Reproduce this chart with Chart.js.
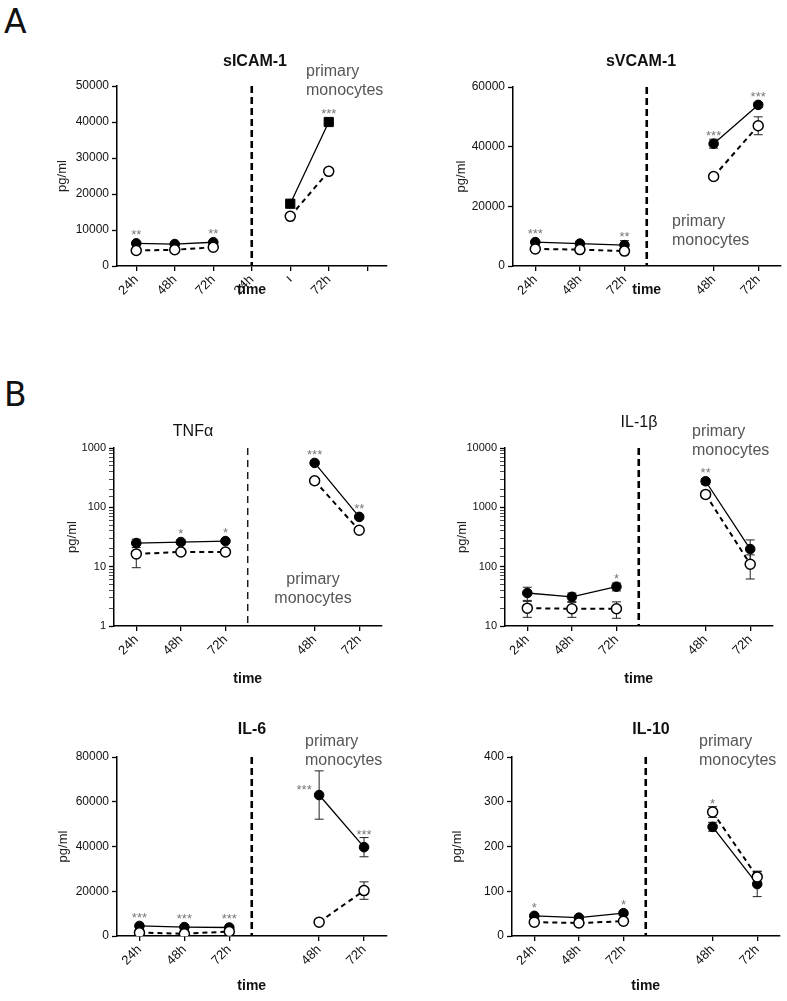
<!DOCTYPE html>
<html>
<head>
<meta charset="utf-8">
<script src="https://cdn.jsdelivr.net/npm/chart.js@4.4.0/dist/chart.umd.min.js"></script>
<style>
body { margin:0; background:#fff; width:787px; height:1001px; position:relative; overflow:hidden; }
canvas { position:absolute; }
.big { position:absolute; font-family:"DejaVu Sans", Arial, sans-serif; font-size:33px; color:#111; line-height:1; }
</style>
</head>
<body>
<div class="big" style="left:4px;top:5px">A</div>
<div class="big" style="left:4px;top:378px">B</div>
<canvas id="c1"></canvas>
<canvas id="c2"></canvas>
<canvas id="c3"></canvas>
<canvas id="c4"></canvas>
<canvas id="c5"></canvas>
<canvas id="c6"></canvas>
<script>
// sICAM-1
var icamLabels = ['24h', '48h', '72h', '24h', 'ı', '72h', ''];
var icamFilled = [6300, 6100, 6600, null, 17300, 40000, null];
var icamOpen = [4300, 4500, 5200, null, 13800, 26300, null];
var icamFilledErr = [300, 300, 300, null, 500, 600, null];
var icamOpenErr = [300, 300, 300, null, 400, 700, null];
var icamStars = ['**', '', '**', '', '', '***', ''];

// sVCAM-1
var vcamLabels = ['24h', '48h', '72h', '', '48h', '72h'];
var vcamFilled = [8000, 7500, 7000, null, 41000, 54000];
var vcamOpen = [5700, 5500, 5000, null, 30000, 47000];
var vcamFilledErr = [500, 400, 1500, null, 1500, 800];
var vcamOpenErr = [400, 400, 1000, null, 600, 3000];
var vcamStars = ['***', '', '**', '', '***', '***'];

// TNFa
var tnfLabels = ['24h', '48h', '72h', '', '48h', '72h'];
var tnfFilled = [25, 26, 27, null, 560, 69];
var tnfOpen = [16.4, 17.7, 17.7, null, 280, 41];
var tnfFilledErr = [4, 2, 2, null, 40, 5];
var tnfOpenErr = [6.8, 1.5, 2, null, 25, 3];
var tnfStars = ['', '*', '*', '', '***', '**'];

// IL-1b
var il1Labels = ['24h', '48h', '72h', '', '48h', '72h'];
var il1Filled = [36, 31, 46, null, 2750, 198];
var il1Open = [20, 19.5, 19.5, null, 1650, 110];
var il1FilledErr = [9, 5, 7, null, 300, 84];
var il1OpenErr = [6, 5.5, 6, null, 200, 48];
var il1Stars = ['', '', '*', '', '**', ''];

// IL-6
var il6Labels = ['24h', '48h', '72h', '', '48h', '72h'];
var il6Filled = [4500, 4000, 3800, null, 63000, 39700];
var il6Open = [1500, 1000, 2000, null, 6200, 20300];
var il6FilledErr = [500, 500, 500, null, 10800, 4300];
var il6OpenErr = [300, 300, 300, null, 500, 3900];
var il6Stars = ['***', '***', '***', '', '***', '***'];

// IL-10
var il10Labels = ['24h', '48h', '72h', '', '48h', '72h'];
var il10Filled = [45, 41, 51, null, 244, 116];
var il10Open = [31, 29, 33, null, 277, 132];
var il10FilledErr = [4, 4, 4, null, 10, 28];
var il10OpenErr = [3, 3, 3, null, 12, 13];
var il10Stars = ['*', '', '*', '', '*', ''];

var FONT = 'Arial, "Liberation Sans", sans-serif';

var panels = [
  {id:'c1', g:{ax:117, top:86, bottom:266, right:387, yTitleX:62, xTitleY:290},
   labels:icamLabels, filled:icamFilled, open:icamOpen, filledErr:icamFilledErr, openErr:icamOpenErr, stars:icamStars,
   yType:'linear', yMin:0, yMax:50000, yStep:10000, sep:3, sepWidth:2.6, hide:[],
   title:{text:'sICAM-1', x:255, y:62, bold:true}, note:{x:306, y:72, align:'left'},
   squares:[4, 5], leftStars:[]},
  {id:'c2', g:{ax:513, top:87, bottom:266, right:783, yTitleX:461, xTitleY:290},
   labels:vcamLabels, filled:vcamFilled, open:vcamOpen, filledErr:vcamFilledErr, openErr:vcamOpenErr, stars:vcamStars,
   yType:'linear', yMin:0, yMax:60000, yStep:20000, sep:2.5, sepWidth:2.6, hide:[3],
   title:{text:'sVCAM-1', x:641, y:62, bold:true}, note:{x:672, y:222, align:'left'},
   squares:[], leftStars:[]},
  {id:'c3', g:{ax:114, top:448, bottom:626, right:382, yTitleX:72, xTitleY:679},
   labels:tnfLabels, filled:tnfFilled, open:tnfOpen, filledErr:tnfFilledErr, openErr:tnfOpenErr, stars:tnfStars,
   yType:'logarithmic', yMin:1, yMax:1000, sep:2.5, sepWidth:1.3, hide:[3],
   title:{text:'TNFα', x:193, y:432, bold:false}, note:{x:313, y:580, align:'center'},
   squares:[], leftStars:[]},
  {id:'c4', g:{ax:505, top:448, bottom:626, right:773, yTitleX:462, xTitleY:679},
   labels:il1Labels, filled:il1Filled, open:il1Open, filledErr:il1FilledErr, openErr:il1OpenErr, stars:il1Stars,
   yType:'logarithmic', yMin:10, yMax:10000, sep:2.5, sepWidth:2.6, hide:[3],
   title:{text:'IL-1β', x:639, y:423, bold:false}, note:{x:692, y:432, align:'left'},
   squares:[], leftStars:[]},
  {id:'c5', g:{ax:117, top:757, bottom:936, right:387, yTitleX:63, xTitleY:986},
   labels:il6Labels, filled:il6Filled, open:il6Open, filledErr:il6FilledErr, openErr:il6OpenErr, stars:il6Stars,
   yType:'linear', yMin:0, yMax:80000, yStep:20000, sep:2.5, sepWidth:2.6, hide:[3],
   title:{text:'IL-6', x:252, y:730, bold:true}, note:{x:305, y:742, align:'left'},
   squares:[], leftStars:[4]},
  {id:'c6', g:{ax:512, top:757, bottom:936, right:780, yTitleX:457, xTitleY:986},
   labels:il10Labels, filled:il10Filled, open:il10Open, filledErr:il10FilledErr, openErr:il10OpenErr, stars:il10Stars,
   yType:'linear', yMin:0, yMax:400, yStep:100, sep:2.5, sepWidth:2.6, hide:[3],
   title:{text:'IL-10', x:651, y:730, bold:true}, note:{x:699, y:742, align:'left'},
   squares:[], leftStars:[]}
];

function makeDecor(p, box) {
  return {
    id: 'decor',
    beforeDatasetsDraw: function(chart) {
      var ctx = chart.ctx, xs = chart.scales.x, ys = chart.scales.y, a = chart.chartArea;
      // separator line
      var sx = xs.getPixelForValue(p.sep);
      ctx.save();
      ctx.strokeStyle = '#000';
      ctx.lineWidth = p.sepWidth;
      ctx.setLineDash(p.sepWidth > 2 ? [7, 4] : [7, 5]);
      ctx.beginPath();
      ctx.moveTo(sx, a.top);
      ctx.lineTo(sx, a.bottom);
      ctx.stroke();
      ctx.setLineDash([]);
      // error bars
      ctx.lineWidth = 1;
      ctx.strokeStyle = '#222';
      [[p.filled, p.filledErr], [p.open, p.openErr]].forEach(function(pair) {
        pair[0].forEach(function(v, i) {
          var e = pair[1][i];
          if (v === null || !e) return;
          var x = xs.getPixelForValue(i);
          var lo = v - e;
          if (p.yType === 'logarithmic') lo = Math.max(lo, p.yMin * 1.01);
          var y1 = ys.getPixelForValue(v + e), y2 = ys.getPixelForValue(lo);
          ctx.beginPath();
          ctx.moveTo(x, y1); ctx.lineTo(x, y2);
          ctx.moveTo(x - 4.5, y1); ctx.lineTo(x + 4.5, y1);
          ctx.moveTo(x - 4.5, y2); ctx.lineTo(x + 4.5, y2);
          ctx.stroke();
        });
      });
      ctx.restore();
    },
    afterDatasetsDraw: function(chart) {
      var ctx = chart.ctx, xs = chart.scales.x, ys = chart.scales.y;
      ctx.save();
      // significance stars
      ctx.fillStyle = '#777';
      ctx.font = '13px ' + FONT;
      ctx.textAlign = 'center';
      ctx.textBaseline = 'alphabetic';
      p.stars.forEach(function(s, i) {
        if (!s) return;
        var x = xs.getPixelForValue(i);
        if (p.leftStars.indexOf(i) >= 0) {
          ctx.fillText(s, x - 15, ys.getPixelForValue(p.filled[i]) - 1);
          return;
        }
        var top = Infinity;
        [[p.filled, p.filledErr], [p.open, p.openErr]].forEach(function(pair) {
          var v = pair[0][i];
          if (v === null) return;
          top = Math.min(top, ys.getPixelForValue(v) - 5, ys.getPixelForValue(v + (pair[1][i] || 0)));
        });
        ctx.fillText(s, x, top + 1);
      });
      // panel title
      ctx.fillStyle = '#111';
      ctx.textBaseline = 'middle';
      ctx.font = (p.title.bold ? 'bold ' : '') + '16px ' + FONT;
      ctx.fillText(p.title.text, p.title.x - box.left, p.title.y - box.top);
      // primary monocytes note
      ctx.fillStyle = '#555';
      ctx.font = '16px ' + FONT;
      ctx.textAlign = p.note.align;
      ctx.fillText('primary', p.note.x - box.left, p.note.y - box.top);
      ctx.fillText('monocytes', p.note.x - box.left, p.note.y + 19 - box.top);
      ctx.restore();
    }
  };
}

panels.forEach(function(p) {
  var g = p.g;
  var box = {left: g.ax - 80, top: g.top - 50, right: Math.min(g.right + 6, 787), bottom: g.xTitleY + 10};
  var cv = document.getElementById(p.id);
  var w = box.right - box.left, h = box.bottom - box.top;
  cv.width = w; cv.height = h;
  cv.style.left = box.left + 'px'; cv.style.top = box.top + 'px';
  cv.style.width = w + 'px'; cv.style.height = h + 'px';

  var yTicks = {color:'#111', font:{size:12, family:FONT}, padding:3, autoSkip:false};
  if (p.yType === 'linear') {
    yTicks.stepSize = p.yStep;
    yTicks.callback = function(v) { return String(v); };
  } else {
    yTicks.font = {size:11, family:FONT};
    yTicks.callback = function(v) {
      var l = Math.log10(v);
      return Math.abs(l - Math.round(l)) < 1e-6 ? String(v) : '';
    };
  }
  var isMajor = function(c) {
    if (p.yType === 'linear') return true;
    var l = Math.log10(c.tick.value);
    return Math.abs(l - Math.round(l)) < 1e-6;
  };

  var pointR = p.filled.map(function(v, i) { return p.squares.indexOf(i) >= 0 ? 6.5 : 4.8; });
  var pointS = p.filled.map(function(v, i) { return p.squares.indexOf(i) >= 0 ? 'rect' : 'circle'; });

  new Chart(cv, {
    type: 'line',
    data: {
      labels: p.labels,
      datasets: [
        {data: p.open, order: 0, borderColor:'#000', borderWidth:2, borderDash:[5, 4],
         pointRadius:5, pointBackgroundColor:'#fff', pointBorderColor:'#000', pointBorderWidth:1.5,
         spanGaps:false, tension:0},
        {data: p.filled, order: 1, borderColor:'#000', borderWidth:1.3,
         pointRadius:pointR, pointStyle:pointS, pointBackgroundColor:'#000', pointBorderColor:'#000', pointBorderWidth:1,
         spanGaps:false, tension:0}
      ]
    },
    options: {
      responsive:false, animation:false, devicePixelRatio:1,
      layout: {padding: {top: g.top - box.top, right: box.right - g.right, left:0, bottom:0}},
      plugins: {legend:{display:false}, title:{display:false}, tooltip:{enabled:false}},
      scales: {
        x: {
          type:'category', offset:true,
          border:{color:'#000', width:1.5},
          grid:{drawOnChartArea:false, offset:false, tickLength:5, lineWidth:1.3,
                color:function(c) { return p.hide.indexOf(c.index) >= 0 ? 'rgba(0,0,0,0)' : '#000'; }},
          ticks:{color:'#111', font:{size:13, family:FONT}, maxRotation:45, minRotation:45, autoSkip:false, padding:1},
          title:{display:true, text:'time', color:'#111', font:{size:14, weight:'bold', family:FONT, lineHeight:1},
                 padding:{top:0, bottom: box.bottom - g.xTitleY - 7}},
          afterFit: function(s) { s.height = box.bottom - g.bottom; }
        },
        y: {
          type:p.yType, min:p.yMin, max:p.yMax,
          border:{color:'#000', width:1.5},
          grid:{drawOnChartArea:false, tickLength:5,
                color:'#000',
                tickWidth:function(c) { return isMajor(c) ? 1.3 : 0.7; }},
          ticks:yTicks,
          title:{display:true, text:'pg/ml', color:'#222', font:{size:13, family:FONT, lineHeight:1},
                 padding:{top: g.yTitleX - box.left - 6.5, bottom:0}},
          afterFit: function(s) { s.width = g.ax - box.left; }
        }
      }
    },
    plugins: [makeDecor(p, box)]
  });
});
</script>
</body>
</html>
